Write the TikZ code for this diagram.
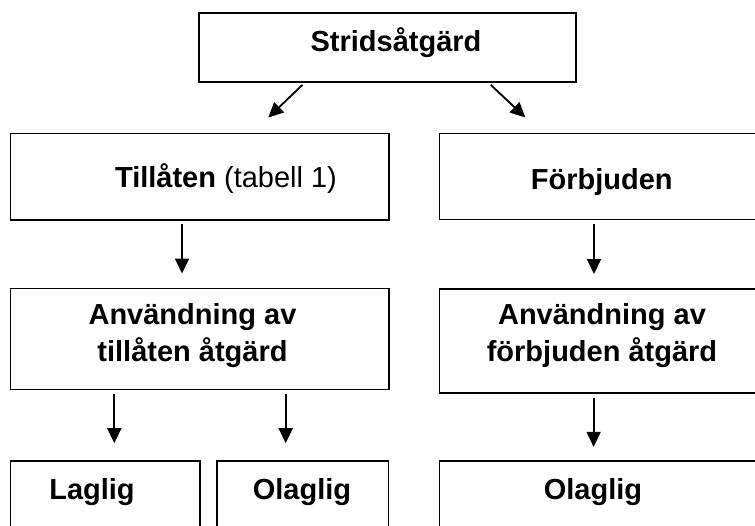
\documentclass[tikz,border=0pt]{standalone}
\usepackage{fontspec}
\setmainfont{Liberation Sans}
\usetikzlibrary{arrows.meta}

\begin{document}
\begin{tikzpicture}[x=1pt,y=-1pt,
    box/.style={draw,line width=1.6pt,inner sep=0pt},
    txt/.style={font=\fontsize{29}{37.7}\selectfont\bfseries,align=center,inner sep=0pt},
    arr/.style={line width=1.8pt,-{Triangle[length=15pt,width=14pt]}}]
  \clip (0,0) rectangle (755,525);
  % boxes
  \node[box,minimum width=377pt,minimum height=69pt] (strid) at (387.5,47.5) {};
  \node[box,minimum width=378.4pt,minimum height=86.7pt] (tillaten) at (199.8,176.7) {};
  \node[box,minimum width=325pt,minimum height=86.2pt] (forbjuden) at (602.1,176.4) {};
  \node[box,minimum width=378.4pt,minimum height=101pt] (anvT) at (199.8,338.8) {};
  \node[box,minimum width=325pt,minimum height=104.4pt] (anvF) at (602.1,341) {};
  \node[box,minimum width=189.2pt,minimum height=120pt] (laglig) at (105.2,520.7) {};
  \node[box,minimum width=171.6pt,minimum height=120pt] (olagT) at (302.5,520.7) {};
  \node[box,minimum width=325pt,minimum height=120pt] (olagF) at (602.1,520.7) {};
  % texts
  \node[txt,anchor=base] (strid-t) at (396,51) {Stridsåtgärd};
  \node[txt,anchor=base] (tillaten-t) at (226,187.7) {Tillåten {\mdseries (tabell 1)}};
  \node[txt,anchor=base] (forbjuden-t) at (601.7,189) {Förbjuden};
  \node[txt] (anvT-t) at (192.5,335.5) {Användning av\\tillåten åtgärd};
  \node[txt] (anvF-t) at (602,335.5) {Användning av\\förbjuden åtgärd};
  \node[txt,anchor=base] (laglig-t) at (92,499.3) {Laglig};
  \node[txt,anchor=base] (olagT-t) at (302,499) {Olaglig};
  \node[txt,anchor=base] (olagF-t) at (593,499) {Olaglig};
  % arrows
  \draw[arr] ([xshift=-85pt,yshift=-2pt]strid.south) -- ([xshift=68.5pt,yshift=15pt]tillaten.north);
  \draw[arr] ([xshift=103.2pt,yshift=-2pt]strid.south) -- ([xshift=-76.7pt,yshift=15pt]forbjuden.north);
  \draw[arr] ([xshift=-17.8pt,yshift=-3pt]tillaten.south) -- ([xshift=-17.8pt,yshift=14pt]anvT.north);
  \draw[arr] ([xshift=-8.1pt,yshift=-3.5pt]forbjuden.south) -- ([xshift=-8.1pt,yshift=14pt]anvF.north);
  \draw[arr] ([xshift=-85.5pt,yshift=-3.4pt]anvT.south) -- ([xshift=9.1pt,yshift=16.7pt]laglig.north);
  \draw[arr] ([xshift=85.9pt,yshift=-3.4pt]anvT.south) -- ([xshift=-16.8pt,yshift=16.7pt]olagT.north);
  \draw[arr] ([xshift=-8.5pt,yshift=-4pt]anvF.south) -- ([xshift=-8.5pt,yshift=13pt]olagF.north);
\end{tikzpicture}
\end{document}
